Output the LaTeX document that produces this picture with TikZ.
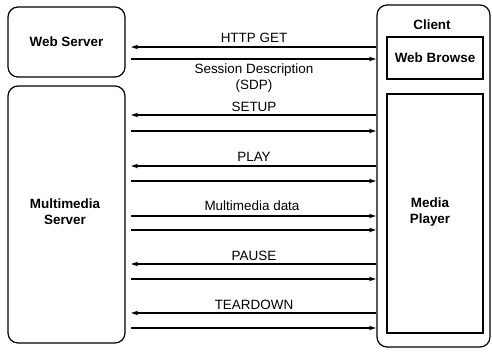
\documentclass[tikz,border=0pt]{standalone}
\usepackage{fontspec}
\setmainfont{Liberation Sans}
\usetikzlibrary{arrows.meta}
\begin{document}
\begin{tikzpicture}[x=1bp,y=-1bp,
  box/.style={draw=black, line width=1.2bp, rounded corners=10bp, inner sep=0pt},
  inbox/.style={draw=black, line width=1.2bp, inner sep=0pt},
  blabel/.style={font=\fontsize{13.5}{16}\selectfont\bfseries, align=center, inner sep=0pt},
  mlabel/.style={font=\fontsize{13.5}{17}\selectfont, align=center, inner sep=0pt},
  arr/.style={line width=1.3bp, -{Stealth[length=7bp,width=4.5bp]}}
]
\useasboundingbox (0,0) rectangle (492,353);
% boxes
\node[box, minimum width=117bp, minimum height=70bp] (ws) at (66.5,42) {};
\node[box, minimum width=117bp, minimum height=257bp] (ms) at (66.5,214.5) {};
\node[box, minimum width=113bp, minimum height=342bp] (cl) at (433.5,176) {};
\node[inbox, minimum width=96bp, minimum height=42bp] (wb) at (435,58) {};
\node[inbox, minimum width=96bp, minimum height=239bp] (mp) at (435,213.5) {};
% box labels
\node[blabel] (wst) at (ws.center) {Web Server};
\node[blabel] (mst) at (65,212) {Multimedia\\Server};
\node[blabel] (clt) at (432,25) {Client};
\node[blabel] (wbt) at (wb.center) {Web Browse};
\node[blabel] (mpt) at (430,212) {Media\\Player};
% arrows: left-pointing start at client box, right-pointing start near server boxes
\coordinate (L) at (131,0);
\coordinate (R) at (376,0);
\draw[arr] (cl.west |- 0,47) -- (L |- 0,47);
\draw[arr] (L |- 0,59) -- (R |- 0,59);
\draw[arr] (cl.west |- 0,115) -- (L |- 0,115);
\draw[arr] (L |- 0,131) -- (R |- 0,131);
\draw[arr] (cl.west |- 0,166) -- (L |- 0,166);
\draw[arr] (L |- 0,181) -- (R |- 0,181);
\draw[arr] (L |- 0,216) -- (R |- 0,216);
\draw[arr] (L |- 0,230) -- (R |- 0,230);
\draw[arr] (cl.west |- 0,264) -- (L |- 0,264);
\draw[arr] (L |- 0,279) -- (R |- 0,279);
\draw[arr] (cl.west |- 0,313) -- (L |- 0,313);
\draw[arr] (L |- 0,328) -- (R |- 0,328);
% arrow labels
\node[mlabel] (t1) at (254,38) {HTTP GET};
\node[mlabel] (t2) at (254,78) {Session Description\\(SDP)};
\node[mlabel] (t3) at (254,107) {SETUP};
\node[mlabel] (t4) at (254,157) {PLAY};
\node[mlabel] (t5) at (252,206) {Multimedia data};
\node[mlabel] (t6) at (254,256) {PAUSE};
\node[mlabel] (t7) at (254,305) {TEARDOWN};
\end{tikzpicture}
\end{document}
